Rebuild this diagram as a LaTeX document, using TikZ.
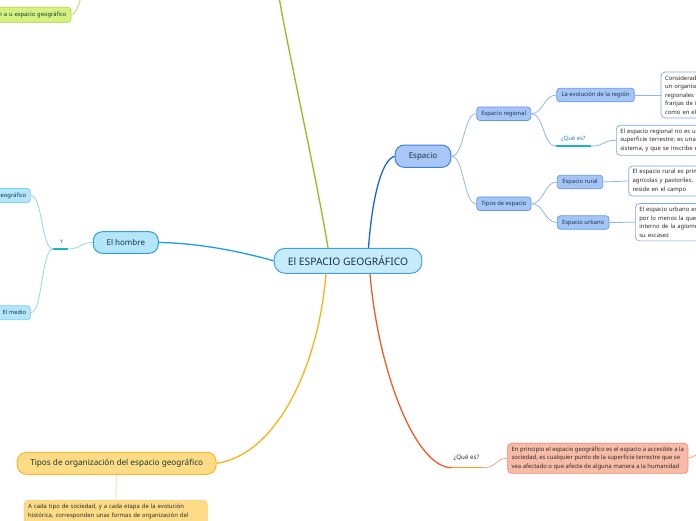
\documentclass[tikz,border=0pt]{standalone}
\usepackage{fontspec}
\setmainfont{Noto Sans}
\usetikzlibrary{calc}
\definecolor{txt}{HTML}{183449}
\definecolor{desctxt}{HTML}{2B2B2B}
\definecolor{cfill}{HTML}{C6EBFB}
\definecolor{cbord}{HTML}{3FA3E0}
\definecolor{bluemain}{HTML}{1E64D6}
\definecolor{espfill}{HTML}{A8C7F6}
\definecolor{espbord}{HTML}{3E7FDD}
\definecolor{subfill}{HTML}{A5C5F7}
\definecolor{subbord}{HTML}{6597E8}
\definecolor{subline}{HTML}{8DB5F0}
\definecolor{descbord}{HTML}{7DA7EE}
\definecolor{tealc}{HTML}{19B5C5}
\definecolor{qtxt}{HTML}{2C7FB8}
\definecolor{hfill}{HTML}{B3E5FB}
\definecolor{hbord}{HTML}{2FA2DE}
\definecolor{hline}{HTML}{1C9FE0}
\definecolor{lline}{HTML}{8FD6F5}
\definecolor{lbord}{HTML}{80CDF2}
\definecolor{gline}{HTML}{8CC21E}
\definecolor{glight}{HTML}{B5DC5A}
\definecolor{gfill}{HTML}{D5F17E}
\definecolor{gbord}{HTML}{ACD63F}
\definecolor{oline}{HTML}{F9B21C}
\definecolor{ofill}{HTML}{FEDC87}
\definecolor{obord}{HTML}{F6B828}
\definecolor{olight}{HTML}{FDE3A8}
\definecolor{otxt}{HTML}{1D3A2A}
\definecolor{rline}{HTML}{EF5A2A}
\definecolor{runder}{HTML}{F89A1E}
\definecolor{rfill}{HTML}{F8BBA8}
\definecolor{rbord}{HTML}{F18A70}
\definecolor{rconnc}{HTML}{F4A38E}
\begin{document}
\begin{tikzpicture}[x=1pt,y=-1pt,
  every node/.style={text=txt},
  mainnode/.style={draw=cbord, fill=cfill, line width=1, rounded corners=11,
    minimum width=147.7, minimum height=25, inner sep=0,
    font=\fontsize{10.3}{12}\selectfont},
  topic/.style={line width=1, rounded corners=9, inner sep=0,
    font=\fontsize{8}{10}\selectfont},
  subtopic/.style={draw=subbord, fill=subfill, line width=0.7, rounded corners=3,
    inner sep=0, minimum height=13.5, font=\fontsize{5.8}{7}\selectfont},
  leftbox/.style={draw=lbord, fill=hfill, line width=0.7, rounded corners=3,
    inner sep=0, minimum height=14, font=\fontsize{5.8}{7}\selectfont, anchor=east},
  desc/.style={draw=descbord, fill=white, line width=0.7, rounded corners=4,
    align=left, anchor=west, inner xsep=4, inner ysep=3.5,
    font=\fontsize{5.9}{8.6}\selectfont, text=desctxt},
  qlabel/.style={inner sep=0, font=\fontsize{5.9}{7}\selectfont},
  mainline/.style={line width=1.3},
  conn/.style={line width=0.8}
]
\useasboundingbox (0,0) rectangle (696,520);
\clip (0,0) rectangle (696,520);

% central and main topics
\node[mainnode] (c) at (348,260.8) {El ESPACIO GEOGRÁFICO};
\node[topic, draw=espbord, fill=espfill, minimum width=55.7, minimum height=22.3] (esp) at (423,156.2) {Espacio};
\node[topic, draw=hbord, fill=hfill, minimum width=65, minimum height=21.6] (hom) at (125.8,242.5) {El hombre};
\node[topic, draw=obord, fill=ofill, minimum width=198.7, minimum height=22, text=otxt,
  font=\fontsize{8.2}{10}\selectfont] (tor) at (116.7,463.3) {Tipos de organización del espacio geográfico};

% green (off top)
\coordinate (gtop) at (279,-3);
\coordinate (gtop2) at (81,-2);
\node[draw=gbord, fill=gfill, line width=0.7, rounded corners=3, anchor=east,
  minimum height=15, inner xsep=4.5, inner ysep=0, text width=80, align=right,
  font=\fontsize{5.8}{7}\selectfont] (gb) at (71.3,14.8) {n a u espacio geográfico};
\draw[gline, mainline] ([xshift=-20pt]c.north) .. controls (316,175) and (288,50) .. (gtop);
\draw[glight, conn] (gb.east) .. controls (76,14) and (78,6) .. (gtop2);

% Espacio branch
\draw[bluemain, mainline] ([xshift=20.5pt]c.north) .. controls (372,200) and (381,160) .. (esp.west);
\node[subtopic, minimum width=54] (er) at (503.7,113.7) {Espacio regional};
\node[subtopic, minimum width=54.3] (te) at (503.8,203.7) {Tipos de espacio};
\draw[subline, conn] (esp.east) .. controls +(13,0) and +(-13,0) .. (er.west);
\draw[subline, conn] (esp.east) .. controls +(13,0) and +(-13,0) .. (te.west);

\node[subtopic, minimum width=77.6] (evo) at (595.5,95) {La evolución de la región};
\node[qlabel, text=qtxt] (q1) at (573.3,139) {¿Qué es?};
\coordinate (q1a) at (556,146.2);
\coordinate (q1b) at (590.7,146.2);
\draw[subline, conn] (er.east) .. controls +(13,0) and +(-13,0) .. (evo.west);
\draw[subline, conn] (er.east) .. controls +(13,0) and +(-13,0) .. (q1a);
\draw[tealc, line width=1.5] (q1a) -- (q1b);

\node[desc, text width=80] (d1) at (660.7,95) {Considerad\\un organism\\regionales\\franjas de i\\como en el};
\node[desc, text width=100] (d2) at (616,140.3) {El espacio regional no es un\\superficie terrestre; es una\\sistema, y que se inscribe e};
\draw[subline, conn] (evo.east) -- (d1.west);
\draw[subline, conn] (q1b) .. controls +(13,0) and +(-13,0) .. (d2.west);

\node[subtopic, minimum width=45.4] (rur) at (580,182) {Espacio rural};
\node[subtopic, minimum width=51.7] (urb) at (583.2,222.5) {Espacio urbano};
\draw[subline, conn] (te.east) .. controls +(13,0) and +(-13,0) .. (rur.west);
\draw[subline, conn] (te.east) .. controls +(13,0) and +(-13,0) .. (urb.west);
\node[desc, text width=90] (d3) at (628.3,181) {El espacio rural es prim\\agrícolas y pastoriles. p\\reside en el campo};
\node[desc, text width=90] (d4) at (635,222.2) {El espacio urbano es\\por lo menos la que\\interno de la aglome\\su escasez};
\draw[subline, conn] (rur.east) .. controls +(12,0) and +(-12,0) .. (d3.west);
\draw[subline, conn] (urb.east) .. controls +(12,0) and +(-12,0) .. (d4.west);

% El hombre branch
\draw[hline, mainline] (c.west) .. controls (235,250) and (195,243) .. (hom.east);
\node[qlabel, font=\fontsize{4.8}{5}\selectfont, text=desctxt] (ylab) at (61.7,242) {Y};
\coordinate (ya) at (53.3,249);
\coordinate (yb) at (68.3,249);
\draw[lline, conn] (hom.west) .. controls +(-12,0) and +(12,0) .. (yb);
\draw[tealc, line width=1.5] (ya) -- (yb);
\node[leftbox, text width=40, align=right, inner xsep=4] (b1) at (30.7,195.5) {geográfico};
\node[leftbox, minimum width=32] (b2) at (30.7,312.7) {El medio};
\draw[lline, conn] (ya) .. controls +(-12,0) and +(12,0) .. (b1.east);
\draw[lline, conn] (ya) .. controls +(-12,0) and +(12,0) .. (b2.east);

% Tipos de organizacion branch
\draw[oline, mainline] ([xshift=-22pt]c.south) .. controls (318,370) and (275,455) .. (tor.east);
\node[desc, anchor=north, draw=obord!70, fill=ofill, text=desctxt, inner ysep=4, text width=175] (tb) at (115.7,500)
  {A cada tipo de sociedad, y a cada etapa de la evolución\\histórica, corresponden unas formas de organización del\\\mbox{}};
\draw[olight, line width=1] (tor.south) -- (tb.north);

% ¿Qué es? (red) branch
\draw[rline, mainline] ([xshift=22pt]c.south) .. controls (378,370) and (415,467.7) .. (451.7,467.7) coordinate (q2a);
\coordinate (q2b) at (483.3,467.7);
\node[qlabel, text=desctxt, font=\fontsize{6.2}{7}\selectfont] (q2) at (466.5,457.5) {¿Qué es?};
\draw[runder, line width=1.5] (q2a) -- (q2b);
\node[desc, draw=rbord, fill=rfill] (rd) at (507.3,458.3)
  {En principio el espacio geográfico es el espacio a accesible a la\\sociedad, es cualquier punto de la superficie terrestre que se\\vea afectado o que afecte de alguna manera a la humanidad};
\coordinate (roff) at (700,452.5);
\draw[rconnc, conn] (q2b) .. controls +(14,0) and +(-12,0) .. (rd.west);
\draw[rconnc, conn] (rd.east) .. controls +(3,0) and +(-2,1) .. (roff);
\end{tikzpicture}
\end{document}
